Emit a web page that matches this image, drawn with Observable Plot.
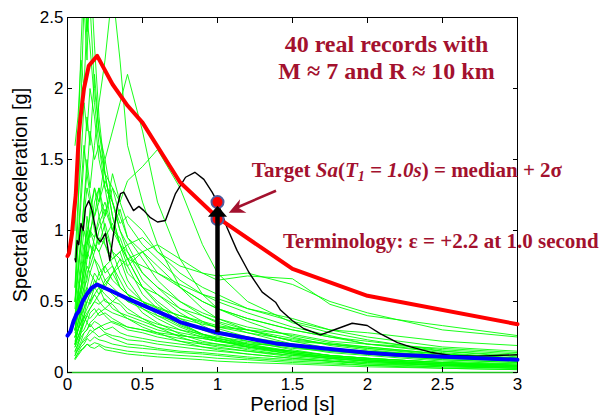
<!DOCTYPE html>
<html><head><meta charset="utf-8">
<script src="https://cdn.jsdelivr.net/npm/d3@7"></script>
<script src="https://cdn.jsdelivr.net/npm/@observablehq/plot@0.6"></script>
<style>body{margin:0;background:#fff}#chart svg{display:block}</style>
</head><body><div id="chart"></div>
<script>
// Periods (s) at which the 40 green records are sampled
const periods = [0.05,0.07,0.09,0.11,0.13,0.15,0.18,0.21,0.25,0.3,0.35,0.4,0.5,0.6,0.75,0.9,1.0,1.2,1.5,1.75,2.0,2.5,3.0];
// Spectral accelerations [g] of the 40 real records
const records = [
[1.0,1.6,2.3,2.8,2.4,2.6,2.0,1.7,1.5,1.2,1.0,0.9,0.7,0.6,0.45,0.36,0.31,0.25,0.18,0.14,0.12,0.08,0.06],
[0.6,1.1,1.9,2.6,2.2,2.9,2.3,1.8,1.4,1.3,1.1,0.95,0.8,0.65,0.5,0.4,0.35,0.28,0.2,0.16,0.13,0.09,0.07],
[0.5,0.7,0.9,1.2,1.5,1.3,1.6,1.9,2.2,2.7,2.2,1.6,1.2,0.9,0.6,0.45,0.38,0.3,0.22,0.17,0.14,0.1,0.08],
[0.4,0.55,0.7,0.8,1.0,1.1,1.3,1.2,1.5,1.7,1.9,2.1,1.7,1.2,0.8,0.55,0.45,0.36,0.25,0.19,0.16,0.11,0.08],
[0.3,0.4,0.5,0.6,0.8,0.9,0.85,1.0,1.1,1.3,1.2,1.35,1.45,1.57,1.3,0.9,0.7,0.5,0.35,0.28,0.23,0.15,0.11],
[1.6,1.8,2.2,2.0,2.5,2.3,1.9,1.6,1.4,1.1,0.9,0.8,0.6,0.5,0.38,0.3,0.26,0.2,0.15,0.12,0.1,0.07,0.05],
[0.8,1.2,1.5,1.9,1.7,2.0,1.8,1.5,1.3,1.2,1.0,0.85,0.65,0.55,0.42,0.33,0.28,0.22,0.16,0.12,0.1,0.07,0.05],
[0.5,0.9,1.3,1.6,1.4,1.7,1.5,1.6,1.3,1.0,0.95,0.8,0.6,0.48,0.35,0.27,0.23,0.18,0.13,0.1,0.08,0.05,0.04],
[0.25,0.3,0.35,0.4,0.5,0.55,0.6,0.7,0.75,0.8,0.85,0.9,0.95,0.85,0.75,0.7,0.68,0.7,0.62,0.5,0.42,0.3,0.25],
[0.2,0.25,0.3,0.35,0.4,0.45,0.5,0.55,0.6,0.7,0.8,0.75,0.85,0.9,0.8,0.7,0.65,0.68,0.66,0.48,0.4,0.33,0.26],
[0.4,0.5,0.6,0.75,0.9,1.0,1.1,1.2,1.35,1.2,1.05,1.1,1.0,0.85,0.7,0.6,0.55,0.45,0.36,0.3,0.25,0.18,0.15],
[0.35,0.5,0.6,0.8,1.1,0.95,1.2,1.3,1.1,1.4,1.2,1.05,0.9,0.8,0.65,0.55,0.5,0.42,0.32,0.26,0.2,0.15,0.12],
[0.3,0.45,0.55,0.7,0.9,1.0,0.95,1.1,1.2,1.0,1.15,0.95,0.85,0.75,0.6,0.5,0.45,0.38,0.3,0.25,0.2,0.14,0.1],
[0.3,0.4,0.5,0.6,0.65,0.8,0.9,0.85,0.95,1.05,0.9,0.8,0.75,0.7,0.62,0.55,0.52,0.45,0.38,0.3,0.28,0.22,0.19],
[0.25,0.35,0.45,0.55,0.7,0.75,0.85,0.95,0.9,0.8,0.85,0.7,0.6,0.55,0.45,0.4,0.36,0.3,0.22,0.2,0.17,0.12,0.09],
[0.45,0.7,0.9,1.1,1.3,1.2,1.0,0.9,1.05,0.85,0.7,0.6,0.5,0.42,0.33,0.27,0.24,0.2,0.14,0.11,0.09,0.06,0.04],
[0.35,0.5,0.75,0.9,0.8,1.0,0.9,0.85,0.7,0.75,0.6,0.55,0.45,0.38,0.3,0.25,0.22,0.18,0.13,0.1,0.08,0.05,0.04],
[0.3,0.45,0.55,0.65,0.75,0.7,0.8,0.75,0.65,0.7,0.6,0.55,0.5,0.45,0.4,0.35,0.32,0.28,0.23,0.2,0.18,0.13,0.1],
[0.25,0.3,0.4,0.5,0.55,0.6,0.7,0.65,0.75,0.65,0.6,0.55,0.5,0.46,0.4,0.36,0.33,0.3,0.24,0.2,0.17,0.13,0.1],
[0.2,0.3,0.35,0.45,0.55,0.5,0.6,0.55,0.65,0.6,0.55,0.5,0.45,0.4,0.35,0.3,0.29,0.25,0.2,0.17,0.15,0.11,0.08],
[0.28,0.35,0.45,0.5,0.6,0.55,0.65,0.6,0.55,0.5,0.48,0.42,0.38,0.34,0.3,0.27,0.25,0.22,0.18,0.15,0.13,0.09,0.07],
[0.22,0.3,0.4,0.45,0.5,0.48,0.55,0.5,0.45,0.42,0.4,0.38,0.34,0.3,0.26,0.24,0.22,0.19,0.15,0.12,0.1,0.07,0.05],
[0.18,0.25,0.3,0.38,0.42,0.45,0.5,0.48,0.52,0.45,0.42,0.4,0.36,0.32,0.28,0.25,0.24,0.21,0.17,0.15,0.13,0.1,0.08],
[0.2,0.25,0.32,0.4,0.35,0.42,0.45,0.4,0.42,0.38,0.35,0.32,0.3,0.27,0.24,0.21,0.2,0.18,0.15,0.12,0.1,0.07,0.06],
[0.15,0.2,0.28,0.35,0.4,0.38,0.42,0.45,0.4,0.35,0.33,0.3,0.28,0.25,0.22,0.2,0.19,0.17,0.13,0.11,0.09,0.06,0.05],
[0.18,0.22,0.28,0.3,0.35,0.32,0.36,0.34,0.3,0.32,0.28,0.26,0.24,0.22,0.2,0.18,0.17,0.15,0.12,0.1,0.08,0.06,0.04],
[0.12,0.18,0.22,0.28,0.3,0.34,0.3,0.32,0.28,0.26,0.25,0.23,0.22,0.2,0.18,0.16,0.15,0.13,0.1,0.08,0.07,0.05,0.04],
[0.14,0.16,0.2,0.24,0.26,0.3,0.28,0.25,0.27,0.24,0.22,0.2,0.19,0.17,0.15,0.14,0.13,0.11,0.09,0.08,0.06,0.05,0.03],
[0.1,0.14,0.18,0.2,0.24,0.22,0.25,0.23,0.22,0.2,0.19,0.18,0.17,0.16,0.14,0.13,0.12,0.1,0.08,0.07,0.05,0.04,0.03],
[0.09,0.12,0.15,0.18,0.2,0.19,0.21,0.2,0.18,0.17,0.16,0.15,0.14,0.13,0.12,0.11,0.1,0.09,0.07,0.06,0.05,0.03,0.02],
[0.1,0.13,0.16,0.17,0.2,0.18,0.17,0.19,0.16,0.15,0.14,0.13,0.12,0.11,0.1,0.09,0.08,0.07,0.06,0.05,0.04,0.03,0.02],
[0.4,0.6,0.8,1.0,0.9,1.15,1.3,1.1,0.9,0.75,0.65,0.55,0.42,0.35,0.27,0.22,0.2,0.16,0.12,0.1,0.08,0.05,0.04],
[0.5,0.75,0.95,1.2,1.4,1.25,1.1,1.3,1.0,0.85,0.8,0.65,0.5,0.4,0.32,0.26,0.23,0.18,0.14,0.11,0.09,0.06,0.05],
[0.3,0.45,0.6,0.7,0.85,0.8,0.95,1.05,1.15,1.0,0.9,0.85,0.7,0.6,0.5,0.42,0.38,0.32,0.26,0.21,0.18,0.13,0.1],
[0.35,0.55,0.7,0.85,1.0,0.9,0.8,0.7,0.6,0.55,0.5,0.45,0.38,0.32,0.25,0.2,0.18,0.15,0.11,0.09,0.07,0.05,0.03],
[0.25,0.35,0.42,0.55,0.6,0.7,0.65,0.6,0.5,0.48,0.42,0.38,0.32,0.28,0.22,0.18,0.16,0.13,0.1,0.08,0.06,0.04,0.03],
[0.6,0.9,1.2,1.5,1.8,1.6,2.1,1.7,1.4,1.1,0.9,0.75,0.55,0.45,0.34,0.27,0.24,0.19,0.14,0.11,0.09,0.06,0.05],
[0.2,0.3,0.35,0.4,0.45,0.5,0.55,0.6,0.62,0.7,0.75,0.8,0.85,0.7,0.6,0.5,0.45,0.38,0.3,0.25,0.22,0.16,0.13],
[0.15,0.2,0.25,0.28,0.3,0.35,0.38,0.42,0.45,0.5,0.55,0.5,0.48,0.42,0.38,0.34,0.32,0.3,0.27,0.22,0.2,0.17,0.14],
[0.12,0.16,0.2,0.22,0.25,0.27,0.3,0.32,0.34,0.36,0.34,0.32,0.3,0.28,0.26,0.24,0.22,0.2,0.19,0.17,0.15,0.12,0.1]
];
// The selected (black) record
const targetT  = [0.05,0.055,0.064,0.075,0.09,0.105,0.12,0.142,0.164,0.198,0.22,0.253,0.282,0.31,0.33,0.353,0.375,0.409,0.44,0.476,0.509,0.553,0.6,0.653,0.72,0.787,0.849,0.909,0.964,1.0,1.064,1.13,1.209,1.298,1.387,1.42,1.498,1.576,1.687,1.798,1.898,1.998,2.087,2.2,2.287,2.42,2.553,2.73,3.0];
const targetSa = [0.80,0.78,0.93,0.90,1.05,1.0,1.16,1.21,1.14,0.95,0.92,0.98,0.79,1.0,1.16,1.26,1.27,1.2,1.14,1.17,1.14,1.09,1.06,1.07,1.26,1.375,1.41,1.36,1.27,1.2,1.02,0.86,0.706,0.566,0.495,0.44,0.366,0.308,0.265,0.308,0.347,0.331,0.272,0.21,0.18,0.143,0.12,0.115,0.125];
// Median spectrum (blue)
const medianT  = [0,0.02,0.04,0.06,0.075,0.1,0.131,0.16,0.198,0.3,0.4,0.5,0.687,0.75,1.0,1.387,2.0,2.187,3.0];
const medianSa = [0.26,0.29,0.36,0.41,0.43,0.5,0.555,0.595,0.62,0.57,0.52,0.475,0.39,0.355,0.28,0.205,0.139,0.125,0.09];
// Median + 2 sigma spectrum (red)
const upperT  = [0,0.01,0.03,0.045,0.055,0.075,0.087,0.11,0.142,0.198,0.3,0.4,0.5,0.75,1.0,1.5,2.0,3.0];
const upperSa = [0.82,0.84,0.98,1.15,1.25,1.67,1.8,2.0,2.16,2.23,2.03,1.88,1.76,1.34,1.09,0.73,0.54,0.34];
// Target point and median + 2 sigma point at T1 = 1.0 s
const T1 = 1.0;
const targetSaT1 = 1.2;
const upperSaT1 = 1.08;
const medianSaT1 = 0.28;
const xTicks = [0,0.5,1,1.5,2,2.5,3];
const yTicks = [0,0.5,1,1.5,2,2.5];

const greenData = records.flatMap((r, i) => r.map((v, j) => ({rec: i, T: periods[j], Sa: v})));
const blackData = targetT.map((t, i) => ({T: t, Sa: targetSa[i]}));
const medData = medianT.map((t, i) => ({T: t, Sa: medianSa[i]}));
const upData = upperT.map((t, i) => ({T: t, Sa: upperSa[i]}));

const darkRed = "#a3112e";
const headUp = {draw(ctx) { ctx.moveTo(0, 0); ctx.lineTo(9.5, 11); ctx.lineTo(-9.5, 11); ctx.closePath(); }};
const stealth = {draw(ctx) { ctx.moveTo(0, 0); ctx.lineTo(7.5, 16); ctx.lineTo(0, 11); ctx.lineTo(-7.5, 16); ctx.closePath(); }};
const pointerTail = {x: 1.39, y: 1.28};
const pointerTip = {x: 1.075, y: 1.125};

const sans = "'Liberation Sans', Arial, Helvetica, sans-serif";
const plot = Plot.plot({
  width: 607, height: 415,
  marginLeft: 67, marginRight: 90, marginTop: 17, marginBottom: 43,
  style: {fontFamily: sans, fontSize: "17px", color: "#000", background: "#fff"},
  x: {domain: [0, 3]},
  y: {domain: [0, 2.5]},
  marks: [
    Plot.line(greenData, {x: "T", y: "Sa", z: "rec", stroke: "#00ff00", strokeWidth: 0.9, clip: true}),
    Plot.frame({stroke: "#000", strokeWidth: 1}),
    Plot.ruleY([0], {stroke: "#22c022", strokeWidth: 1.3}),
    Plot.axisX(xTicks, {anchor: "bottom", tickSize: 0, tickPadding: 5, tickFormat: d => String(d), fontSize: 17, label: null}),
    Plot.axisY(yTicks, {anchor: "left", tickSize: 0, tickPadding: 4, tickFormat: d => String(d), fontSize: 17, label: null}),
    Plot.axisX([], {anchor: "bottom", tickSize: 0, fontSize: 20, label: "Period [s]", labelAnchor: "center", labelOffset: 38, labelArrow: "none"}),
    Plot.axisY([], {anchor: "left", tickSize: 0, fontSize: 20, label: "Spectral acceleration [g]", labelAnchor: "center", labelOffset: 55, labelArrow: "none"}),
    Plot.axisX(xTicks, {anchor: "bottom", tickSize: -5, text: null, label: null}),
    Plot.axisX(xTicks, {anchor: "top", tickSize: -5, text: null, label: null}),
    Plot.axisY(yTicks, {anchor: "left", tickSize: -5, text: null, label: null}),
    Plot.axisY(yTicks, {anchor: "right", tickSize: -5, text: null, label: null}),
    Plot.line(blackData, {x: "T", y: "Sa", stroke: "#000", strokeWidth: 1.4}),
    Plot.line(medData, {x: "T", y: "Sa", stroke: "#0000ff", strokeWidth: 4}),
    Plot.line(upData, {x: "T", y: "Sa", stroke: "#ff0000", strokeWidth: 4}),
    Plot.dot([{T: T1, Sa: targetSaT1}, {T: T1, Sa: upperSaT1}], {x: "T", y: "Sa", r: 6, fill: "#ff0000", stroke: "#4f5b9e", strokeWidth: 2}),
    Plot.ruleX([{T: T1, y1: medianSaT1, y2: 1.11}], {x: "T", y1: "y1", y2: "y2", stroke: "#000", strokeWidth: 4.5}),
    Plot.dot([{T: T1, Sa: 1.175}], {x: "T", y: "Sa", symbol: headUp, r: 5, fill: "#000", stroke: "none"}),
    Plot.link([{x1: pointerTail.x, y1: pointerTail.y, x2: pointerTip.x + 0.04, y2: pointerTip.y + 0.03}], {x1: "x1", y1: "y1", x2: "x2", y2: "y2", stroke: darkRed, strokeWidth: 2.5}),
    Plot.dot([pointerTip], {x: "x", y: "y", symbol: stealth, r: 5, fill: darkRed, stroke: "none", rotate: -115})
  ]
});
document.getElementById("chart").appendChild(plot);

const xs = plot.scale("x"), ys = plot.scale("y");
const svg = d3.select(plot);
const serif = "'Liberation Serif', 'Times New Roman', Times, serif";
function note(x, y, size, anchor) {
  return svg.append("text")
    .attr("x", xs.apply(x)).attr("y", ys.apply(y))
    .attr("fill", darkRed).attr("font-family", serif).attr("font-weight", "bold")
    .attr("font-size", size).attr("text-anchor", anchor);
}
note(2.13, 2.255, 24, "middle").text("40 real records with");
note(2.13, 2.06, 24, "middle").text("M \u2248 7 and R \u2248 10 km");
const t = note(1.232, 1.373, 21, "start");
t.append("tspan").text("Target ");
t.append("tspan").attr("font-style", "italic").text("Sa");
t.append("tspan").text("(");
t.append("tspan").attr("font-style", "italic").text("T");
t.append("tspan").attr("font-style", "italic").attr("font-size", 14).attr("dy", "0.3em").text("1");
t.append("tspan").attr("font-style", "italic").attr("dy", "-0.2em").text(" = 1.0s");
t.append("tspan").text(") = median + 2\u03c3");
note(1.44, 0.873, 21, "start").text("Terminology: \u03b5 = +2.2 at 1.0 second");
</script>
</body></html>
